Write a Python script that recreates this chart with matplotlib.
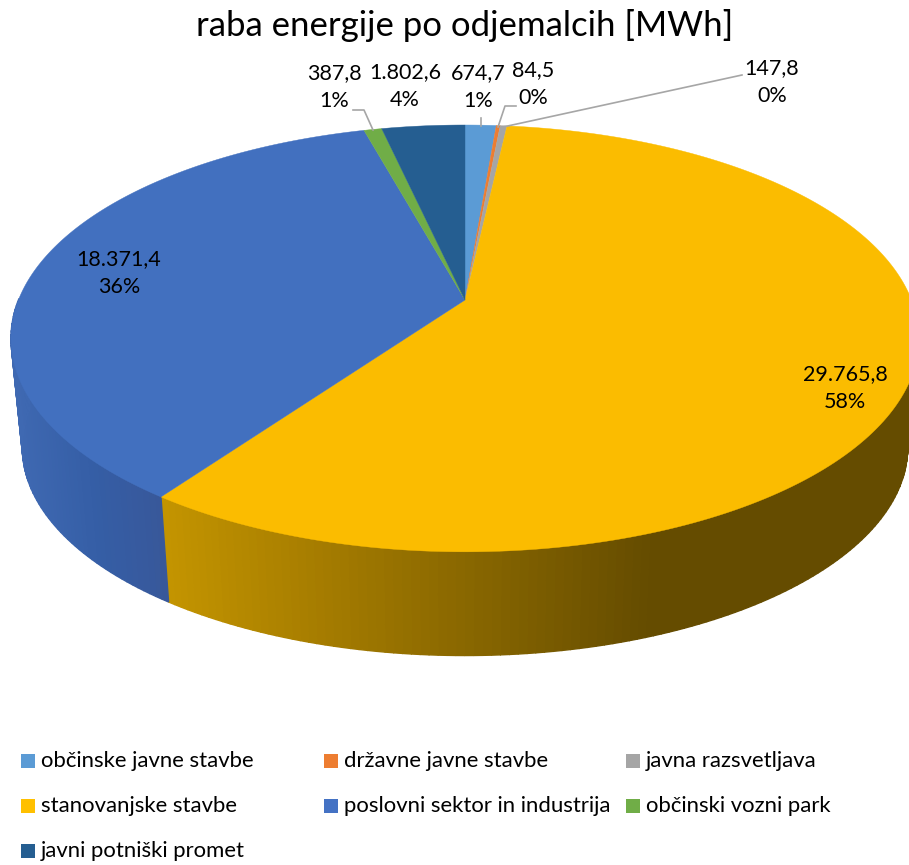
import numpy as np
import matplotlib
matplotlib.use("Agg")
import matplotlib.pyplot as plt
from matplotlib.patches import Polygon, Rectangle

plt.rcParams["font.family"] = ["Lato", "DejaVu Sans"]

# data, clockwise from the top of the pie
categories = ["občinske javne stavbe", "državne javne stavbe", "javna razsvetljava",
              "stanovanjske stavbe", "poslovni sektor in industrija",
              "občinski vozni park", "javni potniški promet"]
values = [674.7, 84.5, 147.8, 29765.8, 18371.4, 387.8, 1802.6]
value_labels = ["674,7", "84,5", "147,8", "29.765,8", "18.371,4", "387,8", "1.802,6"]
percent_labels = ["1%", "0%", "0%", "58%", "36%", "1%", "4%"]
colors = ["#5B9BD5", "#ED7D31", "#A5A5A5", "#FBBC00", "#4270BF", "#70AD47", "#255E91"]
legend_colors = ["#5B9BD5", "#ED7D31", "#A5A5A5", "#FFC000", "#4472C4", "#70AD47", "#255E91"]

# label centres in pixels, in the same order
label_pos = [(478, 87), (533, 84), (772, 82), (845, 388), (119, 273), (334, 87), (405, 86)]
leaders = [[(481, 118), (481, 126)],
           [(516, 106), (505, 106), (498, 127)],
           [(742, 75), (503, 127)],
           None,
           None,
           [(353, 110), (364, 110), (373, 130)],
           None]

# side wall shading, colour by pixel x
wall_stops = {
    3: ([160, 300, 480, 650, 909], ["#C49500", "#A97F00", "#866500", "#654C00", "#654C00"]),
    4: ([10, 90, 160], ["#3F69B2", "#355EA6", "#38589A"]),
}


# tilted circle to pixels, scale and drop give the lower rim
def project(theta, scale=1.0, drop=0.0):
    x = np.sin(theta)
    y = np.cos(theta)
    w = 1 + 0.18 * y
    return 465 + scale * 446.6 * x / w, 300 + drop - scale * 206.5 * y / w


def hex_rgb(c):
    return np.array(matplotlib.colors.to_rgb(c))


def wall_color(i, px):
    xs, cols = wall_stops.get(i, ([0, 909], [colors[i], colors[i]]))
    rgb = np.array([hex_rgb(c) for c in cols])
    return [np.interp(px, xs, rgb[:, k]) for k in range(3)]


fig = plt.figure(figsize=(9.09, 8.65), dpi=100)
ax = fig.add_axes([0, 0, 1, 1])
ax.set_xlim(0, 909)
ax.set_ylim(865, 0)
ax.axis("off")

edges = np.concatenate([[0], np.cumsum(values)]) / np.sum(values) * 2 * np.pi

# side walls first
for i in range(len(values)):
    t = np.linspace(edges[i], edges[i + 1], max(3, int((edges[i + 1] - edges[i]) * 60)))
    for a, b in zip(t[:-1], t[1:]):
        if np.cos((a + b) / 2) > 0.0:
            continue
        xa, ya = project(a)
        xb, yb = project(b)
        xc, yc = project(b, 0.975, 110)
        xd, yd = project(a, 0.975, 110)
        c = wall_color(i, (xa + xb) / 2)
        ax.add_patch(Polygon([(xa, ya), (xb, yb), (xc, yc), (xd, yd)], facecolor=c, edgecolor=c, lw=1.0))

# top face
for i in range(len(values)):
    t = np.linspace(edges[i], edges[i + 1], 200)
    px, py = project(t)
    pts = [project(0, 0)] + list(zip(px, py))
    ax.add_patch(Polygon(pts, facecolor=colors[i], edgecolor=colors[i], lw=0.3))

# data labels
for i in range(len(values)):
    ax.text(label_pos[i][0], label_pos[i][1], value_labels[i] + "\n" + percent_labels[i],
            ha="center", va="center", fontsize=15.5, color="black", linespacing=1.5)
    if leaders[i] is not None:
        lx, ly = zip(*leaders[i])
        ax.plot(lx, ly, color="#A6A6A6", lw=1.2)

ax.text(465, 26, "raba energije po odjemalcih [MWh]", ha="center", va="center", fontsize=25, color="black")

# legend
leg_x = [21, 324, 626]
leg_y = [761, 806, 851]
for i, name in enumerate(categories):
    x = leg_x[i % 3]
    y = leg_y[i // 3]
    ax.add_patch(Rectangle((x, y - 7), 14, 14, facecolor=legend_colors[i], edgecolor="none"))
    ax.text(x + 20, y, name, ha="left", va="center", fontsize=15.9, color="black")

fig.savefig("out.png", dpi=100)
